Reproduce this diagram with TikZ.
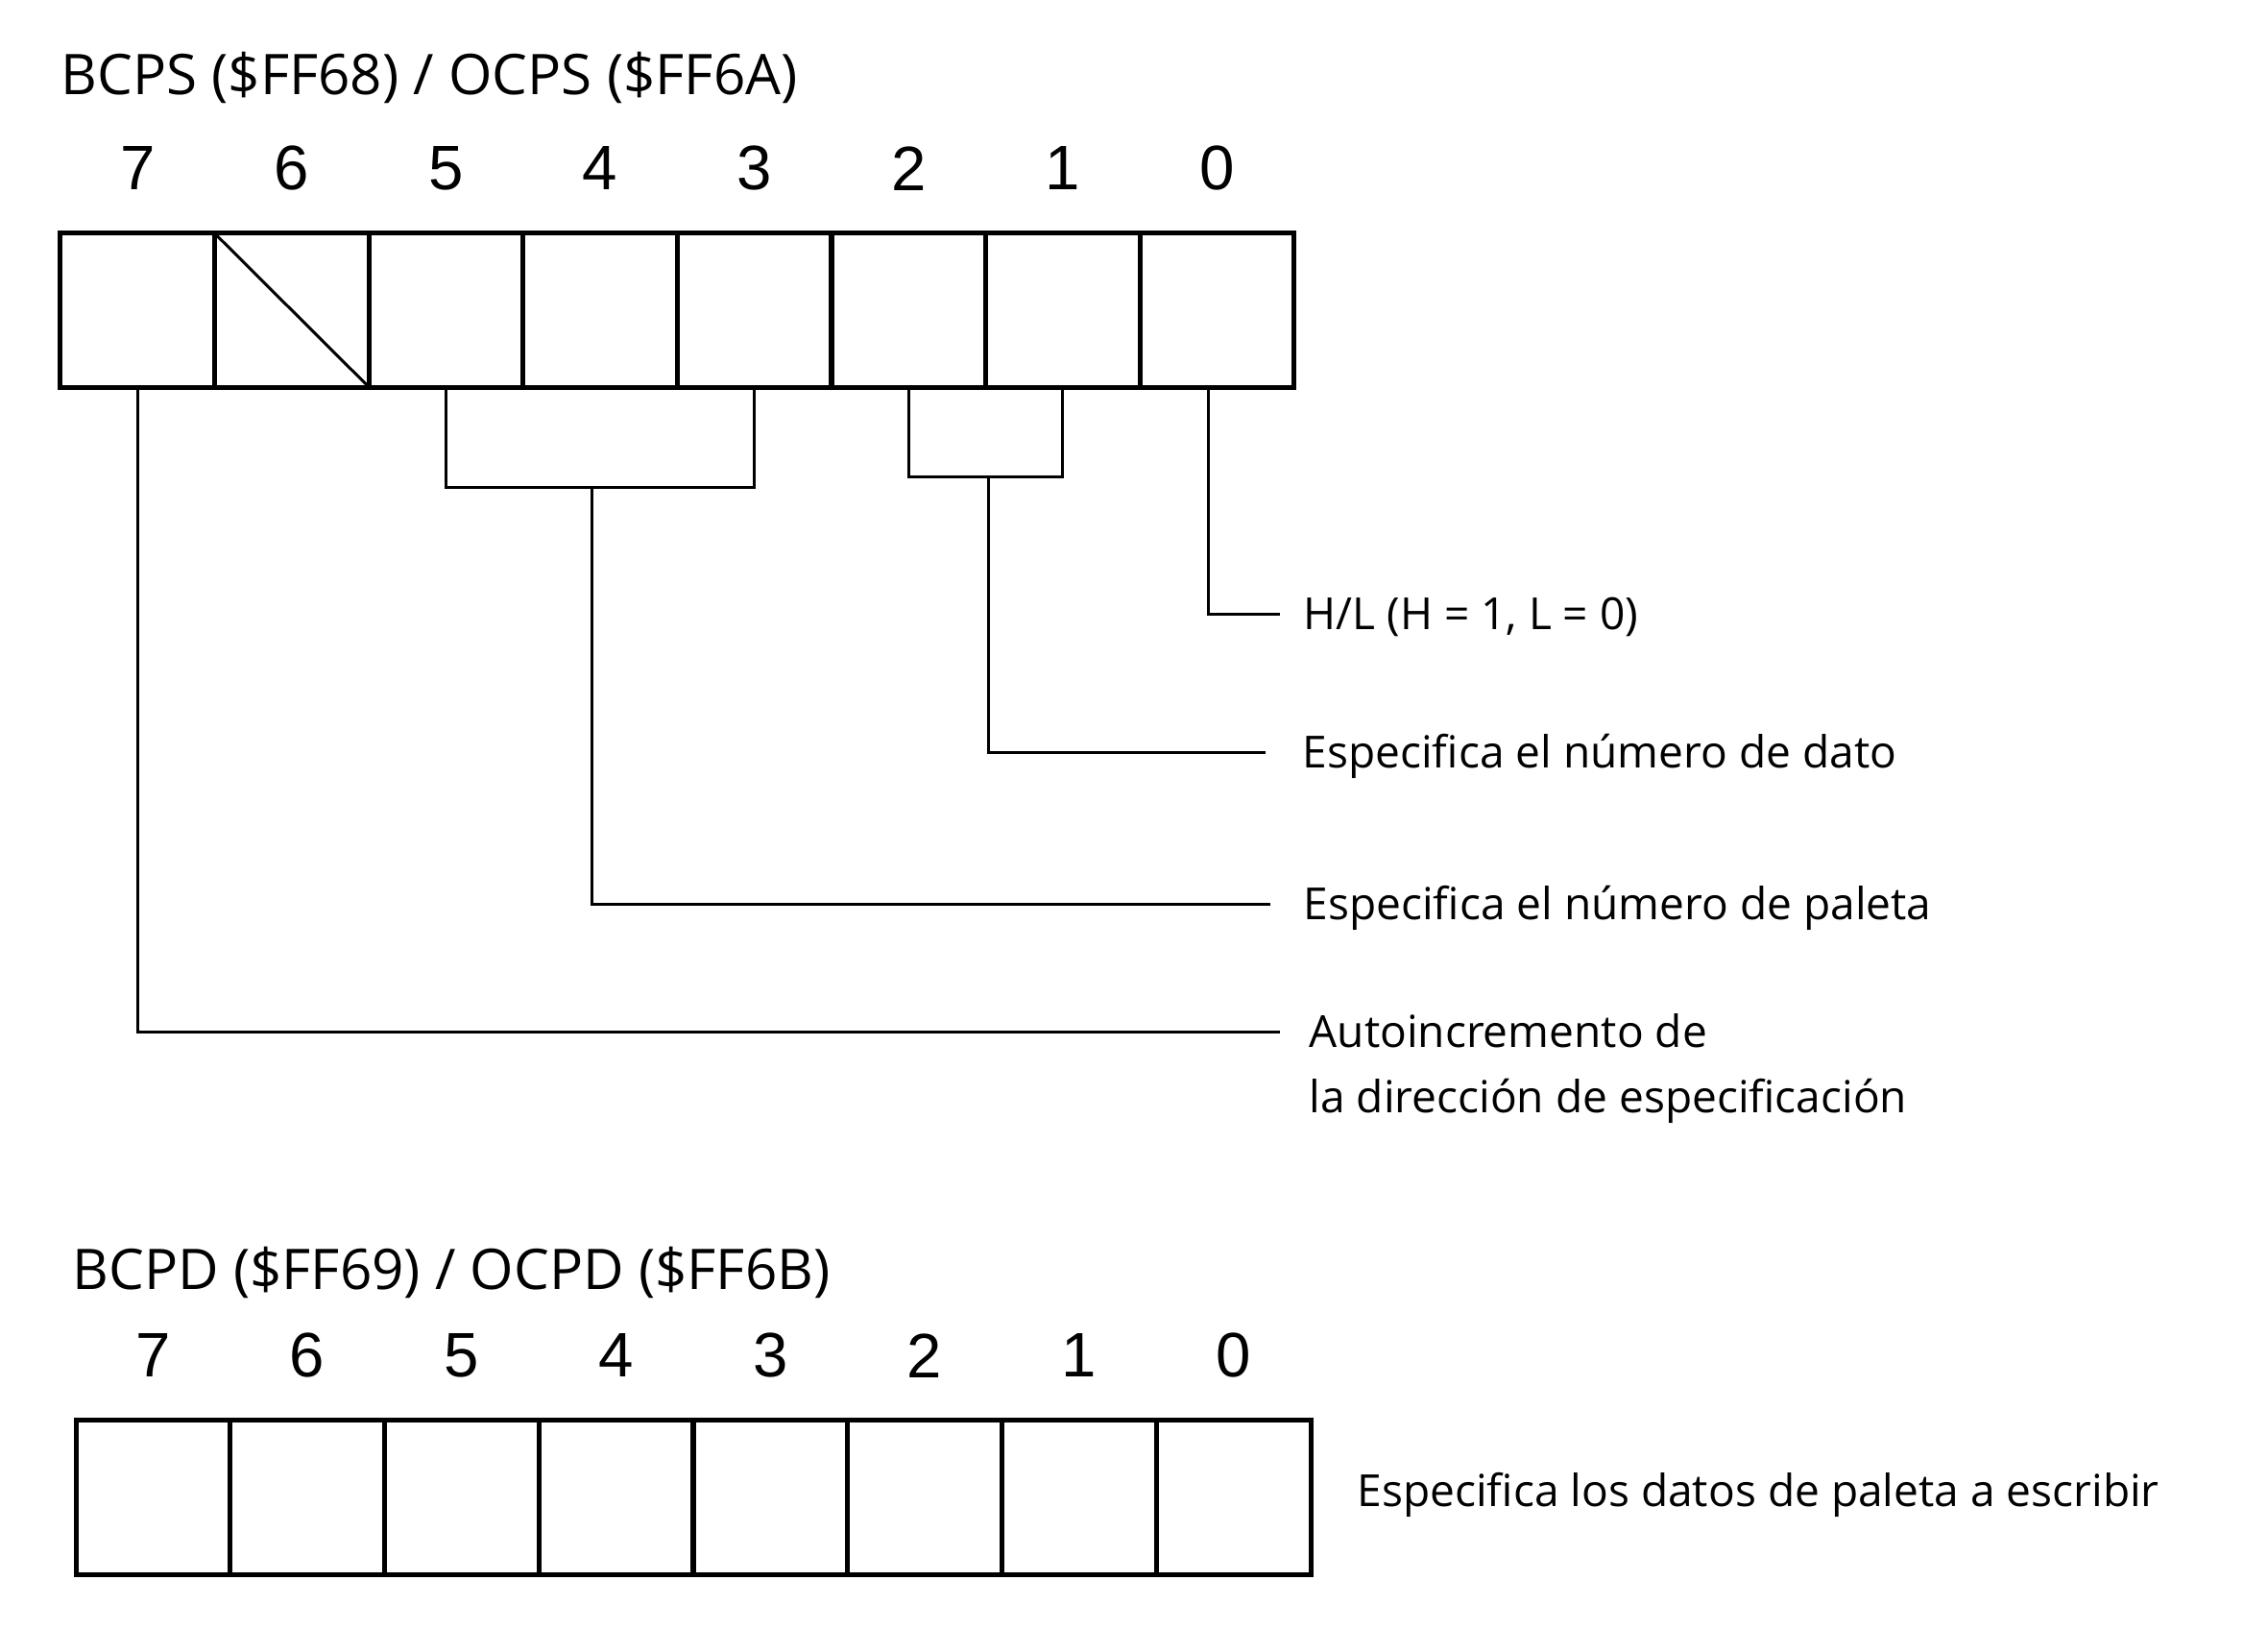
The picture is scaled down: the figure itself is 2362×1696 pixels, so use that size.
\documentclass[tikz,border=0pt]{standalone}
\usepackage{fontspec}
\setmainfont{Open Sans}
\newfontfamily\digitfont{Liberation Sans}
\usetikzlibrary{positioning}

\begin{document}
\begin{tikzpicture}[x=0.01cm, y=-0.01cm,
  cell/.style={draw, line width=0.05cm, minimum width=1.606cm, minimum height=1.6cm, inner sep=0, outer sep=0},
  bitnum/.style={font=\digitfont\fontsize{18.6}{22}\selectfont, inner sep=0},
  wire/.style={line width=0.03cm},
  title/.style={font=\fontsize{16.6}{20}\selectfont, anchor=base west, inner sep=0},
  lbl/.style={font=\fontsize{13.1}{19.3}\selectfont, anchor=west, inner sep=0, text height=0.33cm, text depth=0pt}]

  \useasboundingbox (0,0) rectangle (2362,1696);

  % BCPS / OCPS
  \node[title] (tps) at (63,98) {BCPS (\$FF68) / OCPS (\$FF6A)};
  \foreach \b in {7,...,0} {
    \node[cell] (a\b) at ({143.3+160.6*(7-\b)},323) {};
    \node[bitnum] (na\b) at ([yshift=0.675cm]a\b.north) {\b};
  }
  \draw[wire] (a6.north west) -- (a6.south east);

  \node[lbl] (hl) at (1357,639) {H/L (H = 1, L = 0)};
  \node[lbl] (dato) at (1356,783) {Especifica el número de dato};
  \node[lbl] (pal) at (1357,941) {Especifica el número de paleta};
  \node[font=\fontsize{13.1}{19.3}\selectfont, align=left, anchor=base west, inner sep=0]
    (auto) at (1363,1158) {Autoincremento de\\la dirección de especificación};

  \draw[wire] ([xshift=-0.09cm]a0.south) |- ([xshift=-0.24cm]hl.west);
  \coordinate (j21) at (1029,496);
  \draw[wire] (a2.south) |- (j21) -| (a1.south);
  \draw[wire] (j21) |- ([xshift=-0.38cm]dato.west);
  \coordinate (j53) at (616,507);
  \draw[wire] (a5.south) |- (j53) -| (a3.south);
  \draw[wire] (j53) |- ([xshift=-0.34cm]pal.west);
  \coordinate (autoend) at (1333,1074);
  \draw[wire] (a7.south) |- (autoend);

  % BCPD / OCPD
  \node[title] (tpd) at (75,1342) {BCPD (\$FF69) / OCPD (\$FF6B)};
  \foreach \b in {7,...,0} {
    \node[cell] (d\b) at ({159.4+160.75*(7-\b)},1559) {};
    \node[bitnum] (nd\b) at ([yshift=0.675cm]d\b.north) {\b};
  }
  \node[lbl] (datos) at (1413,1552) {Especifica los datos de paleta a escribir};
\end{tikzpicture}
\end{document}
